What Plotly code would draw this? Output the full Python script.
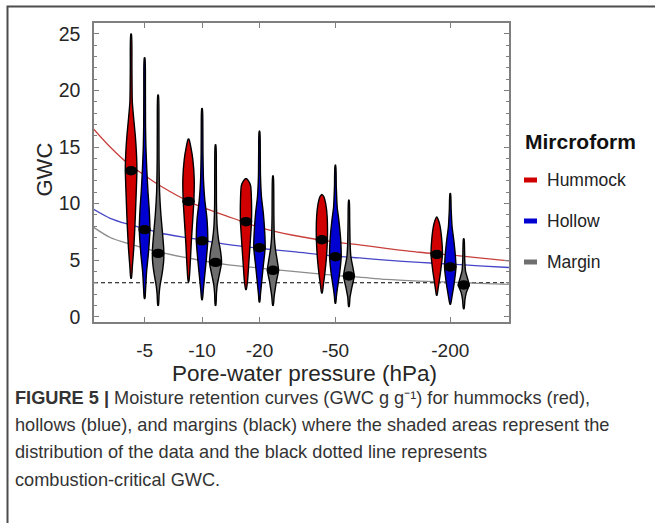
import math
import plotly.graph_objects as go

# ---------------- data ----------------
pressures = [5, 10, 20, 50, 200]
tick_labels = ["-5", "-10", "-20", "-50", "-200"]
series_names = ["Hummock", "Hollow", "Margin"]
fill_colors = ["#D00000", "#0000D0", "#6E6E6E"]
curve_colors = ["#C8403C", "#4646C8", "#8C8C8C"]

hummock_median = [12.9, 10.2, 8.4, 6.8, 5.5]
hollow_median = [7.7, 6.7, 6.1, 5.3, 4.4]
margin_median = [5.6, 4.8, 4.1, 3.6, 2.8]

# violin profiles: GWC levels (bottom -> top) and half-widths (density, px)
hummock_levels = [
    [3.4, 4.5, 6.0, 8.0, 10.0, 12.0, 13.0, 14.5, 16.0, 17.5, 19.0, 22.0, 25.0],
    [3.1, 4.4, 6.5, 8.6, 10.2, 12.1, 13.9, 15.0, 15.7],
    [2.4, 3.2, 4.7, 6.5, 8.4, 10.3, 11.6, 12.0, 12.2],
    [2.1, 2.7, 3.5, 5.0, 6.8, 8.8, 10.0, 10.6, 10.8],
    [1.9, 2.4, 3.0, 4.1, 5.5, 6.8, 8.0, 8.5, 8.8],
]
hummock_widths = [
    [0.3, 1.3, 2.6, 3.8, 4.7, 5.5, 5.8, 5.3, 4.2, 2.6, 1.2, 0.8, 0.3],
    [0.3, 1.5, 2.7, 4.2, 5.3, 5.7, 4.3, 2.3, 0.4],
    [0.3, 1.6, 2.8, 4.2, 5.5, 5.5, 4.6, 2.5, 0.4],
    [0.3, 1.3, 2.5, 4.3, 5.5, 5.3, 3.8, 2.0, 0.3],
    [0.3, 1.2, 2.2, 4.0, 5.7, 5.0, 3.3, 1.8, 0.3],
]
hollow_levels = [
    [1.6, 2.5, 4.0, 5.5, 7.7, 9.5, 11.0, 13.0, 15.0, 17.0, 20.0, 22.9],
    [1.5, 2.3, 3.2, 5.0, 6.7, 8.6, 10.3, 12.0, 14.5, 16.5, 18.4],
    [1.3, 2.0, 2.7, 4.4, 6.1, 7.4, 9.2, 10.6, 12.5, 14.5, 16.4],
    [1.2, 1.8, 2.5, 3.8, 5.3, 6.8, 8.5, 9.7, 11.5, 13.4],
    [1.1, 1.8, 3.0, 4.4, 5.5, 6.8, 8.0, 9.5, 10.9],
]
hollow_widths = [
    [0.3, 1.0, 2.0, 3.7, 5.3, 4.6, 3.4, 2.2, 1.3, 0.9, 0.8, 0.3],
    [0.3, 1.2, 2.2, 4.2, 5.7, 5.0, 2.8, 1.5, 0.9, 0.8, 0.3],
    [0.3, 1.0, 1.8, 3.7, 5.7, 5.3, 3.8, 2.0, 1.0, 0.8, 0.3],
    [0.3, 1.0, 2.0, 4.2, 5.8, 5.3, 3.5, 1.8, 0.9, 0.3],
    [0.3, 1.8, 4.0, 5.7, 5.0, 3.5, 1.8, 0.9, 0.3],
]
margin_levels = [
    [1.0, 2.0, 2.8, 3.8, 5.0, 6.0, 7.5, 9.0, 11.0, 14.0, 17.0, 19.6],
    [1.0, 2.0, 2.8, 3.6, 4.8, 5.8, 6.8, 8.0, 10.0, 13.0, 15.2],
    [1.0, 1.8, 2.6, 3.2, 4.1, 5.0, 6.0, 7.0, 9.0, 11.0, 12.45],
    [0.9, 1.7, 2.6, 3.6, 4.4, 5.3, 6.5, 8.5, 10.3],
    [0.7, 1.5, 2.1, 2.8, 3.4, 4.0, 5.0, 6.0, 6.9],
]
margin_widths = [
    [0.3, 1.0, 2.0, 4.0, 5.6, 5.6, 4.3, 2.8, 1.5, 0.9, 0.8, 0.3],
    [0.3, 0.9, 1.7, 3.5, 6.0, 5.0, 3.0, 1.6, 0.9, 0.8, 0.3],
    [0.3, 1.2, 2.5, 3.6, 5.6, 4.2, 2.4, 1.4, 0.9, 0.8, 0.3],
    [0.3, 1.1, 3.0, 5.3, 3.9, 2.0, 1.2, 0.8, 0.3],
    [0.3, 1.2, 2.5, 5.3, 3.7, 1.8, 1.0, 0.8, 0.3],
]

# fitted retention curves (pressure magnitude, hPa)
curve_pressure = [2.7, 3.3, 4.05, 5, 6, 9, 13.5, 20, 30, 50, 66.8, 92, 138, 200, 283, 406]
hummock_curve = [16.6, 15.0, 13.6, 12.5, 11.6, 10.0, 8.9, 7.9, 7.2, 6.6, 6.35, 6.05, 5.7, 5.46, 5.2, 4.93]
hollow_curve = [9.5, 8.7, 8.2, 7.8, 7.4, 6.9, 6.4, 6.05, 5.75, 5.35, 5.2, 5.0, 4.8, 4.65, 4.5, 4.35]
margin_curve = [7.9, 7.0, 6.5, 6.05, 5.7, 5.1, 4.6, 4.3, 4.0, 3.65, 3.5, 3.3, 3.15, 3.05, 2.95, 2.85]

critical_gwc = 3.0

caption_lines = [
    "<b>FIGURE 5 |</b> Moisture retention curves (GWC g g\u207b\u00b9) for hummocks (red),",
    "hollows (blue), and margins (black) where the shaded areas represent the",
    "distribution of the data and the black dotted line represents",
    "combustion-critical GWC.",
]

# ---------------- layout geometry ----------------
W, H = 655, 523
L, R, T, B = 94, 146, 23, 201
PW, PH = W - L - R, H - T - B
x_range = [0.4337, 2.609]
y_range = [-0.47, 25.97]
px_per_x = PW / (x_range[1] - x_range[0])
px_per_y = PH / (y_range[1] - y_range[0])
group_offsets_px = [-13.5, 0.0, 13.5]


def pxx(px):
    return (px - L) / PW


def pxy(py):
    return (H - B - py) / PH


all_levels = [hummock_levels, hollow_levels, margin_levels]
all_widths = [hummock_widths, hollow_widths, margin_widths]
all_medians = [hummock_median, hollow_median, margin_median]
all_curves = [hummock_curve, hollow_curve, margin_curve]

fig = go.Figure()

# curves
curve_x = [math.log10(p) for p in curve_pressure]
for s in range(3):
    fig.add_trace(go.Scatter(
        x=curve_x, y=all_curves[s], mode="lines",
        line=dict(color=curve_colors[s], width=1.3, shape="spline", smoothing=0.8),
        showlegend=False, hoverinfo="skip"))

# violins
shapes = []
for s in range(3):
    for g, p in enumerate(pressures):
        c = math.log10(p) + group_offsets_px[s] / px_per_x
        lv = all_levels[s][g]
        wd = all_widths[s][g]
        xs = [c + w / px_per_x for w in wd] + [c - w / px_per_x for w in reversed(wd)]
        ys = list(lv) + list(reversed(lv))
        xs.append(xs[0])
        ys.append(ys[0])
        fig.add_trace(go.Scatter(
            x=xs, y=ys, mode="lines", fill="toself", fillcolor=fill_colors[s],
            line=dict(color="black", width=1.4, shape="spline", smoothing=0.6),
            showlegend=False, hoverinfo="skip"))
        m = all_medians[s][g]
        shapes.append(dict(
            type="circle", xref="x", yref="y",
            x0=c - 6.3 / px_per_x, x1=c + 6.3 / px_per_x,
            y0=m - 4.7 / px_per_y, y1=m + 4.7 / px_per_y,
            fillcolor="black", line=dict(color="black", width=0), layer="above"))

# outer frame (left and top edges)
shapes.append(dict(
    type="path", xref="paper", yref="paper",
    path=f"M {pxx(7.5)},{pxy(540)} L {pxx(7.5)},{pxy(6.5)} L {pxx(670)},{pxy(6.5)}",
    line=dict(color="#4D4D4D", width=2)))

# legend swatches
legend_y = [180, 221, 262]
for s in range(3):
    shapes.append(dict(
        type="rect", xref="paper", yref="paper",
        x0=pxx(524), x1=pxx(537), y0=pxy(legend_y[s] + 2.5), y1=pxy(legend_y[s] - 2.5),
        fillcolor=fill_colors[s], line=dict(width=0)))

annotations = []
annotations.append(dict(
    text="<b>Mircroform</b>", xref="paper", yref="paper", x=pxx(523), y=pxy(141),
    xanchor="left", yanchor="middle", showarrow=False,
    font=dict(family="Liberation Sans", size=21, color="#111111")))
for s in range(3):
    annotations.append(dict(
        text=series_names[s], xref="paper", yref="paper", x=pxx(545), y=pxy(legend_y[s]),
        xanchor="left", yanchor="middle", showarrow=False,
        font=dict(family="Liberation Sans", size=17.5, color="#222222")))

annotations.append(dict(
    text="GWC", xref="paper", yref="paper", x=pxx(43.5), y=pxy(170), textangle=-90,
    xanchor="center", yanchor="middle", showarrow=False,
    font=dict(family="Liberation Sans", size=22, color="#262626")))
annotations.append(dict(
    text="Pore-water pressure (hPa)", xref="paper", yref="paper", x=pxx(304), y=pxy(374),
    xanchor="center", yanchor="middle", showarrow=False,
    font=dict(family="Liberation Sans", size=22.5, color="#262626")))

caption_y = [398, 425, 452, 480]
for i, line in enumerate(caption_lines):
    annotations.append(dict(
        text=line, xref="paper", yref="paper", x=pxx(13), y=pxy(caption_y[i]),
        xanchor="left", yanchor="middle", showarrow=False, align="left",
        font=dict(family="Liberation Sans", size=18.2, color="#333333")))

fig.add_hline(y=critical_gwc, line=dict(color="black", width=1.1, dash="4px,3px"), layer="below")

axis_color = "#7F7F7F"
fig.update_layout(
    width=W, height=H,
    margin=dict(l=L, r=R, t=T, b=B, autoexpand=False),
    paper_bgcolor="white", plot_bgcolor="white",
    shapes=fig.layout.shapes + tuple(shapes),
    annotations=annotations,
    showlegend=False,
    xaxis=dict(
        range=x_range, tickvals=[math.log10(p) for p in pressures], ticktext=tick_labels,
        showgrid=False, zeroline=False, showline=True, linecolor=axis_color, linewidth=1.5,
        mirror="ticks", ticks="inside", ticklen=5, tickwidth=1.2, tickcolor=axis_color,
        tickfont=dict(family="Liberation Sans", size=19, color="#262626"),
        ticklabelstandoff=10),
    yaxis=dict(
        range=y_range, tickvals=[0, 5, 10, 15, 20, 25],
        showgrid=False, zeroline=False, showline=True, linecolor=axis_color, linewidth=1.5,
        mirror="ticks", ticks="inside", ticklen=5, tickwidth=1.2, tickcolor=axis_color,
        minor=dict(dtick=1, ticks="inside", ticklen=3, tickcolor=axis_color, tickwidth=1),
        tickfont=dict(family="Liberation Sans", size=19.5, color="#262626"),
        ticklabelstandoff=8),
)

fig.write_html("out.html", config={"displayModeBar": False},
               post_script="document.body.style.margin='0px';")
